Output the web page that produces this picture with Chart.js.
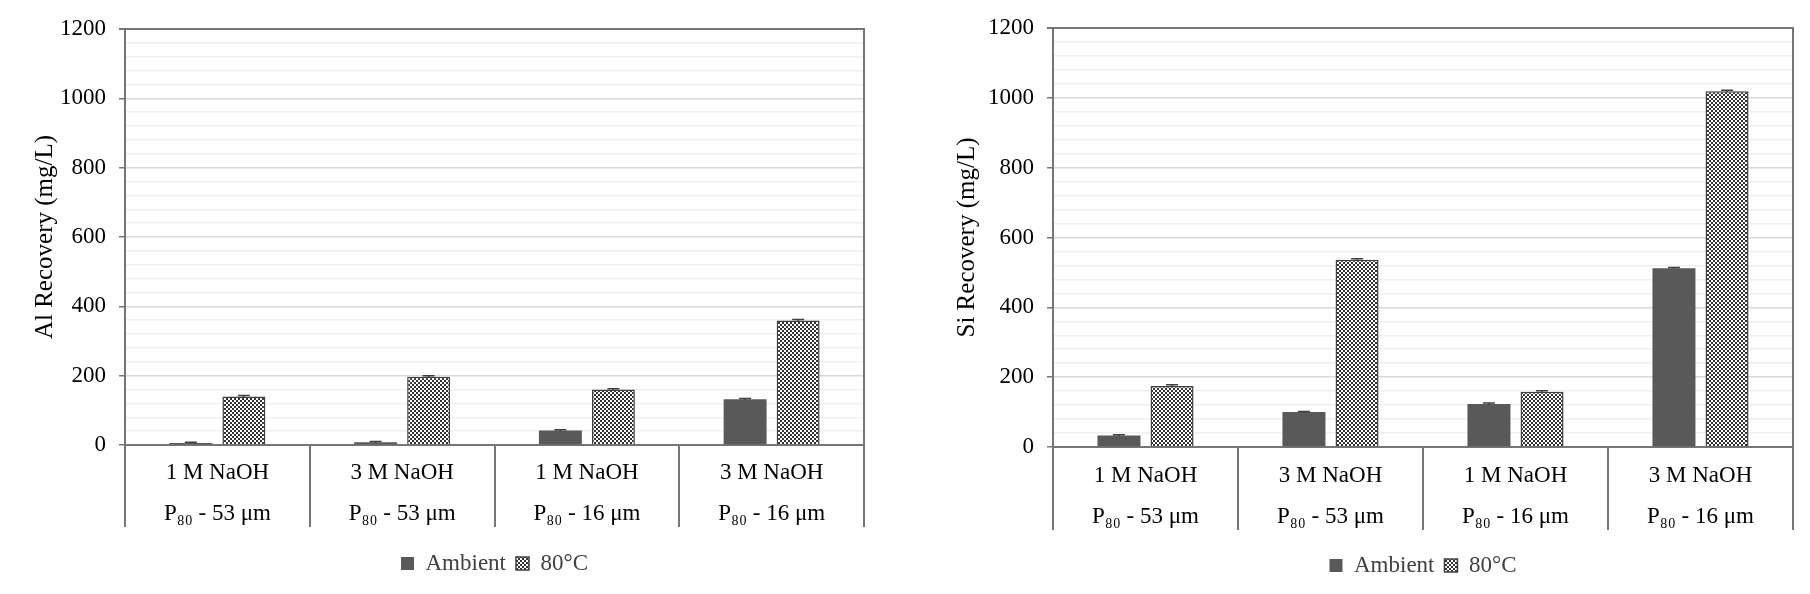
<!DOCTYPE html>
<html>
<head>
<meta charset="utf-8">
<script src="https://cdn.jsdelivr.net/npm/chart.js@4/dist/chart.umd.min.js"></script>
<style>
  body { margin: 0; background: #fff; }
  #wrap { position: relative; width: 1810px; height: 594px; }
  canvas { position: absolute; top: 0; }
  #alChart { left: 0; }
  #siChart { left: 905px; }
</style>
</head>
<body>
<div id="wrap">
  <canvas id="alChart" width="905" height="594"></canvas>
  <canvas id="siChart" width="905" height="594"></canvas>
</div>
<script>
// data
const categories = [
    ['1 M NaOH', 'P₈₀ - 53 μm'],
    ['3 M NaOH', 'P₈₀ - 53 μm'],
    ['1 M NaOH', 'P₈₀ - 16 μm'],
    ['3 M NaOH', 'P₈₀ - 16 μm']
];
const seriesNames = ['Ambient', '80°C'];

const alAmbient = [6, 8, 42, 132];
const alHot = [140, 197, 160, 359];
const alAmbientErr = [2, 2, 2, 2];
const alHotErr = [3, 3, 2, 3];

const siAmbient = [33, 100, 123, 512];
const siHot = [175, 536, 158, 1019];
const siAmbientErr = [2, 2, 3, 2];
const siHotErr = [3, 3, 3, 3];

const yMax = 1200;
const yMajor = 200;
const yMinor = 40;

Chart.defaults.font.family = "'Liberation Serif', 'Times New Roman', serif";
Chart.defaults.color = '#000';

// small checkerboard fill used for the 80°C bars
function checkerPattern() {
    const c = document.createElement('canvas');
    c.width = 4;
    c.height = 4;
    const g = c.getContext('2d');
    g.fillStyle = '#fff';
    g.fillRect(0, 0, 4, 4);
    g.fillStyle = '#333';
    g.fillRect(0, 0, 2, 2);
    g.fillRect(2, 2, 2, 2);
    return g.createPattern(c, 'repeat');
}
const checker = checkerPattern();

// error bars, drawn from the error arrays through the y scale
const errorBars = {
    id: 'errorBars',
    afterDatasetsDraw(chart) {
        const ctx = chart.ctx;
        const y = chart.scales.y;
        ctx.save();
        ctx.strokeStyle = '#404040';
        ctx.lineWidth = 1.5;
        chart.data.datasets.forEach((ds, i) => {
            chart.getDatasetMeta(i).data.forEach((bar, j) => {
                const v = ds.data[j], e = ds.errors[j];
                const yt = y.getPixelForValue(v + e);
                const yb = y.getPixelForValue(v - e);
                ctx.beginPath();
                ctx.moveTo(bar.x, yt); ctx.lineTo(bar.x, yb);
                ctx.moveTo(bar.x - 6, yt); ctx.lineTo(bar.x + 6, yt);
                ctx.stroke();
            });
        });
        ctx.restore();
    }
};

function makeChart(id, title, ambient, hot, ambientErr, hotErr, L) {
    const legendPad = 10;
    const fontSize = 23;
    const legendH = fontSize + 10 + legendPad;
    return new Chart(document.getElementById(id), {
        type: 'bar',
        data: {
            labels: categories,
            datasets: [{
                label: seriesNames[0],
                data: ambient,
                errors: ambientErr,
                backgroundColor: '#595959',
                borderColor: '#595959',
                borderWidth: 0
            }, {
                label: seriesNames[1],
                data: hot,
                errors: hotErr,
                backgroundColor: checker,
                borderColor: '#404040',
                borderWidth: 1.5
            }]
        },
        options: {
            responsive: false,
            animation: false,
            devicePixelRatio: 1,
            categoryPercentage: 0.574,
            barPercentage: 0.81,
            layout: {
                padding: { left: 0, right: L.padRight, top: L.top, bottom: L.padBottom }
            },
            plugins: {
                legend: {
                    position: 'bottom',
                    fullSize: false,
                    labels: {
                        boxWidth: 13,
                        boxHeight: 13,
                        padding: legendPad,
                        font: { size: fontSize },
                        color: '#404040'
                    }
                },
                tooltip: { enabled: false }
            },
            scales: {
                x: {
                    offset: true,
                    grid: {
                        offset: true,
                        drawOnChartArea: false,
                        tickLength: L.tickLen,
                        color: '#757575',
                        lineWidth: 2
                    },
                    border: { color: '#757575', width: 2 },
                    ticks: {
                        maxRotation: 0,
                        padding: L.labelPad,
                        font: { size: fontSize, lineHeight: 1.8 }
                    },
                    afterFit(scale) {
                        scale.height = 594 - L.padBottom - legendH - L.zero;
                    }
                },
                y: {
                    min: 0,
                    max: yMax,
                    ticks: {
                        stepSize: yMinor,
                        autoSkip: false,
                        padding: 13,
                        font: { size: fontSize },
                        callback: v => (v % yMajor === 0 ? v : '')
                    },
                    grid: {
                        tickLength: 6,
                        color: c => {
                            const v = c.tick.value;
                            if (v === yMax || v === 0) return '#757575';
                            return v % yMajor === 0 ? '#d9d9d9' : '#efefef';
                        },
                        lineWidth: c => (c.tick.value === yMax ? 2 : 1.5),
                        tickColor: c => (c.tick.value % yMajor === 0 ? '#757575' : 'rgba(0,0,0,0)')
                    },
                    border: { color: '#757575', width: 2 },
                    title: {
                        display: true,
                        text: title,
                        font: { size: 25 },
                        padding: { top: L.titlePad, bottom: 0 }
                    },
                    afterFit(scale) {
                        scale.width = L.axisX;
                    }
                },
                y2: {
                    position: 'right',
                    min: 0,
                    max: yMax,
                    ticks: { display: false },
                    grid: { drawOnChartArea: false, drawTicks: false },
                    border: { color: '#757575', width: 2 },
                    afterFit(scale) {
                        scale.width = 0;
                    }
                }
            }
        },
        plugins: [errorBars]
    });
}

makeChart('alChart', 'Al Recovery (mg/L)', alAmbient, alHot, alAmbientErr, alHotErr,
    { axisX: 125, padRight: 41, top: 29, zero: 445, padBottom: 9, tickLen: 82, labelPad: -75, titlePad: 30 });
makeChart('siChart', 'Si Recovery (mg/L)', siAmbient, siHot, siAmbientErr, siHotErr,
    { axisX: 148, padRight: 17, top: 28, zero: 447, padBottom: 7, tickLen: 83, labelPad: -75, titlePad: 47 });
</script>
</body>
</html>
